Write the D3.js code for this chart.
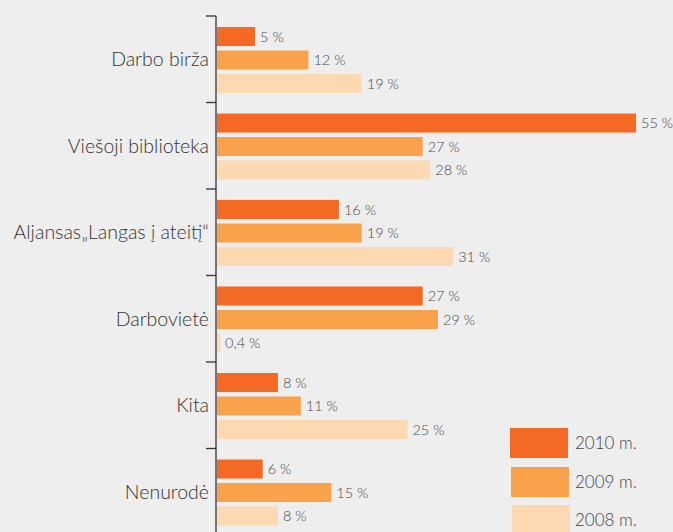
<!DOCTYPE html>
<html>
<head>
<meta charset="utf-8">
<script src="https://cdn.jsdelivr.net/npm/d3@7"></script>
<style>
  html, body { margin: 0; padding: 0; background: #eeeeee; }
  svg { display: block; }
</style>
</head>
<body>
<svg id="chart" width="673" height="532"></svg>
<script>
const categories = ["Darbo birža", "Viešoji biblioteka", "Aljansas„Langas į ateitį“", "Darbovietė", "Kita", "Nenurodė"];
const series = ["2010 m.", "2009 m.", "2008 m."];
const values2010 = [5, 55, 16, 27, 8, 6];
const values2009 = [12, 27, 19, 29, 11, 15];
const values2008 = [19, 28, 31, 0.4, 25, 8];
const colors = ["#f46a24", "#faa24b", "#fdd9b1"];

const seriesValues = [values2010, values2009, values2008];
const svg = d3.select("#chart");
const font = "Lato, 'Open Sans', sans-serif";

const y = d3.scaleBand().domain(categories).range([16, 16 + 6 * 86.5]);
const yInner = d3.scaleBand().domain(series).range([11, 77]).paddingInner(0.19).paddingOuter(0);
const x = d3.scaleLinear().domain([0, 55]).range([217, 636]);

const fmt = v => String(v).replace(".", ",") + " %";

// bars
const g = svg.append("g");
categories.forEach((c, ci) => {
  series.forEach((s, si) => {
    const v = seriesValues[si][ci];
    const yy = y(c) + yInner(s);
    g.append("rect")
      .attr("x", x(0))
      .attr("y", yy)
      .attr("width", x(v) - x(0))
      .attr("height", yInner.bandwidth())
      .attr("fill", colors[si]);
    g.append("text")
      .attr("x", x(v) + 5)
      .attr("y", yy + yInner.bandwidth() / 2)
      .attr("dy", "0.36em")
      .attr("font-family", font)
      .attr("font-weight", 300)
      .attr("font-size", 14.5)
      .attr("fill", "#4a4a4a")
      .text(fmt(v));
  });
});

// axis
const axisX = 216;
svg.append("line")
  .attr("x1", axisX).attr("x2", axisX)
  .attr("y1", y.range()[0]).attr("y2", y.range()[1])
  .attr("stroke", "#333").attr("stroke-width", 1.3);
const bounds = categories.map(c => y(c)).concat([y.range()[1]]);
svg.selectAll(".tick").data(bounds).join("line")
  .attr("x1", axisX - 10).attr("x2", axisX)
  .attr("y1", d => d).attr("y2", d => d)
  .attr("stroke", "#333").attr("stroke-width", 1.3);

// category labels
svg.selectAll(".cat").data(categories).join("text")
  .attr("x", 209)
  .attr("y", d => y(d) + y.bandwidth() / 2)
  .attr("dy", "0.35em")
  .attr("text-anchor", "end")
  .attr("font-family", font)
  .attr("font-weight", 300)
  .attr("font-size", 19.5)
  .attr("fill", "#333")
  .text(d => d);

// legend
const legY = [428, 467, 505];
const legX = [510, 511, 512];
series.forEach((s, i) => {
  svg.append("rect")
    .attr("x", legX[i]).attr("y", legY[i])
    .attr("width", 58).attr("height", 30)
    .attr("fill", colors[i]);
  svg.append("text")
    .attr("x", 575).attr("y", legY[i] + 15)
    .attr("dy", "0.35em")
    .attr("font-family", font)
    .attr("font-weight", 300)
    .attr("font-size", 17)
    .attr("fill", "#444")
    .text(s);
});
</script>
</body>
</html>
